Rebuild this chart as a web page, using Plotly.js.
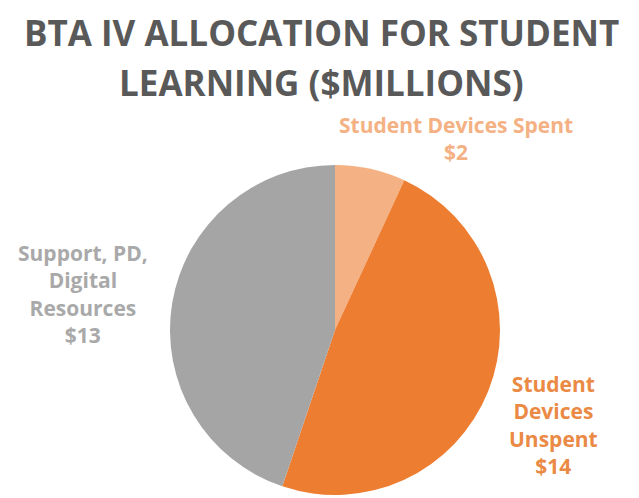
<!DOCTYPE html>
<html>
<head>
<meta charset="utf-8">
<script src="https://cdn.plot.ly/plotly-3.0.1.min.js"></script>
<style>html,body{margin:0;padding:0;background:#fff;}#chart{width:639px;height:498px;}</style>
</head>
<body>
<div id="chart"></div>
<script>
const categories = ['Student Devices Spent', 'Student Devices Unspent', 'Support, PD, Digital Resources'];
const labelLines = ['Student Devices Spent', 'Student<br>Devices<br>Unspent', 'Support, PD,<br>Digital<br>Resources'];
const values = [2, 14, 13];
const sliceColors = ['#F4B183', '#ED7D31', '#A5A5A5'];
const labelColors = ['#F4B183', '#EA8A45', '#A9A9A9'];
const titleLines = ['BTA IV ALLOCATION FOR STUDENT', 'LEARNING ($MILLIONS)'];

const W = 639, H = 498;
const labelPos = [
  {x: 456, y: 139},
  {x: 553, y: 425},
  {x: 83, y: 294}
];
const titlePos = [{x: 322, y: 32}, {x: 322, y: 82}];

const annotations = categories.map((c, i) => ({
  x: labelPos[i].x / W, y: 1 - labelPos[i].y / H,
  xref: 'paper', yref: 'paper', xanchor: 'center', yanchor: 'middle',
  text: '<b>' + labelLines[i] + '<br>$' + values[i] + '</b>',
  showarrow: false,
  font: {family: 'Open Sans, sans-serif', size: 21, color: labelColors[i]},
  align: 'center'
})).concat(titleLines.map((t, i) => ({
  x: titlePos[i].x / W, y: 1 - titlePos[i].y / H,
  xref: 'paper', yref: 'paper', xanchor: 'center', yanchor: 'middle',
  text: '<b>' + t + '</b>',
  showarrow: false,
  font: {family: 'Open Sans, sans-serif', size: 35, color: '#595959'}
})));

const data = [{
  type: 'pie',
  labels: categories,
  values: values,
  sort: false,
  direction: 'clockwise',
  rotation: 0,
  marker: {colors: sliceColors, line: {width: 0}},
  textinfo: 'none',
  hoverinfo: 'label+value',
  domain: {x: [170 / W, 500 / W], y: [1 - 495 / H, 1 - 165 / H]},
  showlegend: false
}];

const layout = {
  width: W, height: H,
  margin: {l: 0, r: 0, t: 0, b: 0},
  paper_bgcolor: '#ffffff',
  annotations: annotations,
  showlegend: false
};

Plotly.newPlot('chart', data, layout, {displayModeBar: false});
</script>
</body>
</html>
